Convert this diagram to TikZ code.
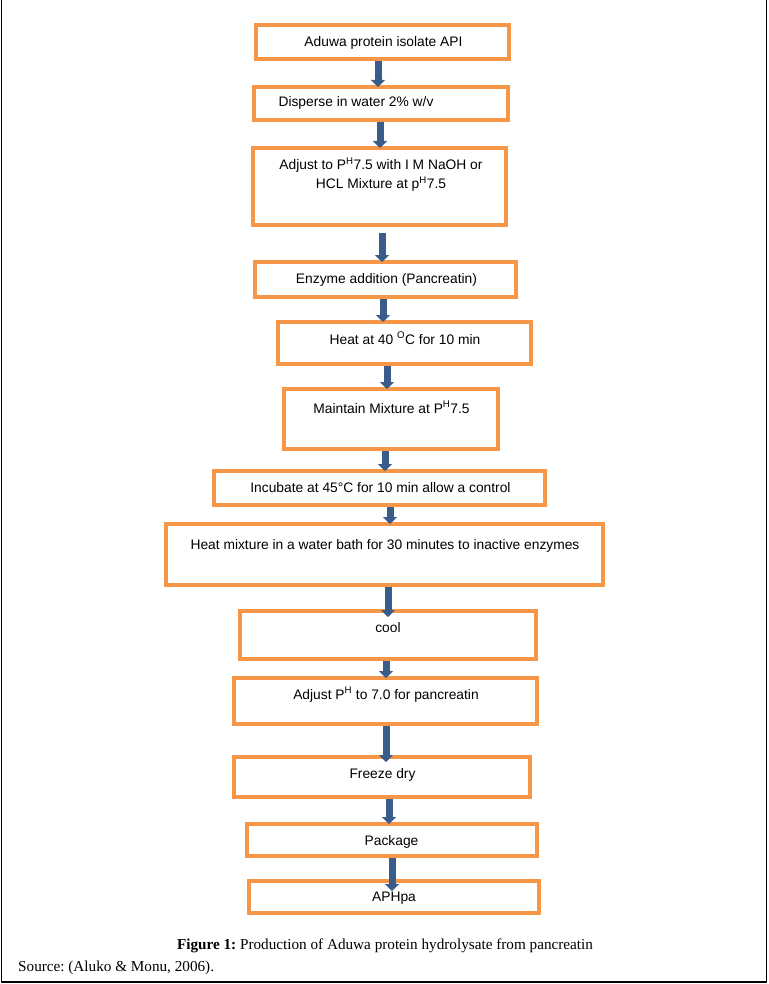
\documentclass[tikz,border=0pt]{standalone}
\usepackage{fontspec}
\setmainfont{Liberation Serif}
\newfontfamily\boxfont{Liberation Sans}
\usetikzlibrary{arrows.meta}
\definecolor{boxorange}{HTML}{F79646}
\definecolor{arrowblue}{RGB}{58,92,138}
\frenchspacing
\begin{document}
\begin{tikzpicture}[x=1pt,y=1pt,
  box/.style={draw=boxorange, line width=4pt, fill=none, inner sep=0pt, outer sep=0pt, rectangle},
  txt/.style={font=\boxfont\fontsize{13.8}{16}\selectfont, inner sep=0pt, anchor=base},
  arr/.style={draw=arrowblue, line width=7pt, -{Triangle[width=14pt,length=7pt]}},
  captext/.style={font=\fontsize{15.2}{17}\selectfont, inner sep=0pt, anchor=base}]
\useasboundingbox (0,0) rectangle (768,-984);
% outer frame (open at top)
\draw[line width=1.5pt] (1.5,0) -- (1.5,-982) -- (766.5,-982) -- (766.5,0);

% boxes
\node[box, minimum width=253pt, minimum height=34pt] (b1) at (382.5,-42) {};
\node[box, minimum width=254pt, minimum height=33pt] (b2) at (381,-103.5) {};
\node[box, minimum width=253pt, minimum height=77pt] (b3) at (379.5,-186.5) {};
\node[box, minimum width=261pt, minimum height=35pt] (b4) at (385.5,-279.5) {};
\node[box, minimum width=253pt, minimum height=42pt] (b5) at (404.5,-343) {};
\node[box, minimum width=214pt, minimum height=60pt] (b6) at (391,-419) {};
\node[box, minimum width=331pt, minimum height=34pt] (b7) at (379.5,-488) {};
\node[box, minimum width=437pt, minimum height=61pt] (b8) at (384.5,-554.5) {};
\node[box, minimum width=296pt, minimum height=48pt] (b9) at (388,-635) {};
\node[box, minimum width=303pt, minimum height=46pt] (b10) at (385.5,-701) {};
\node[box, minimum width=296pt, minimum height=40pt] (b11) at (382,-777) {};
\node[box, minimum width=290pt, minimum height=32pt] (b12) at (392,-840) {};
\node[box, minimum width=290pt, minimum height=32pt] (b13) at (394,-897) {};

% texts
\node[txt] (t1) at (383.5,-47) {Aduwa protein isolate API};
\node[txt] (t2) at (356,-107) {Disperse in water 2\% w/v};
\node[txt] (t3a) at (381,-170) {Adjust to P\textsuperscript{H}7.5 with I M NaOH or};
\node[txt] (t3b) at (381,-189) {HCL Mixture at p\textsuperscript{H}7.5};
\node[txt] (t4) at (386.5,-283) {Enzyme addition (Pancreatin)};
\node[txt] (t5) at (405,-344) {Heat at 40 \textsuperscript{O}C for 10 min};
\node[txt] (t6) at (391.5,-413) {Maintain Mixture at P\textsuperscript{H}7.5};
\node[txt] (t7) at (380.5,-492) {Incubate at 45°C for 10 min allow a control};
\node[txt] (t8) at (385,-549) {Heat mixture in a water bath for 30 minutes to inactive enzymes};
\node[txt] (t9) at (388,-632) {cool};
\node[txt] (t10) at (386,-699) {Adjust P\textsuperscript{H} to 7.0 for pancreatin};
\node[txt] (t11) at (382.5,-778) {Freeze dry};
\node[txt] (t12) at (391.5,-845) {Package};
\node[txt] (t13) at (394,-901) {APHpa};

% arrows
\draw[arr, shorten <=2pt] (378,0 |- b1.south) -- (378,0 |- b2.north);
\draw[arr, shorten <=2pt] (380,0 |- b2.south) -- (380,0 |- b3.north);
\draw[arr, shorten <=8pt] (382,0 |- b3.south) -- (382,0 |- b4.north);
\draw[arr, shorten <=2pt] (383,0 |- b4.south) -- (383,0 |- b5.north);
\draw[arr, shorten <=2pt] (387,0 |- b5.south) -- (387,0 |- b6.north);
\draw[arr, shorten <=2pt] (385,0 |- b6.south) -- (385,0 |- b7.north);
\draw[arr, shorten <=2pt] (390,0 |- b7.south) -- (390,0 |- b8.north);
\draw[arr, shorten <=2pt, shorten >=-6pt] (388,0 |- b8.south) -- (388,0 |- b9.north);
\draw[arr, shorten <=2pt] (386,0 |- b9.south) -- (386,0 |- b10.north);
\draw[arr, shorten <=2pt, shorten >=-5pt] (386,0 |- b10.south) -- (386,0 |- b11.north);
\draw[arr, shorten <=2pt] (389,0 |- b11.south) -- (389,0 |- b12.north);
\draw[arr, shorten <=2pt, shorten >=-10pt] (392,0 |- b12.south) -- (392,0 |- b13.north);

% caption
\node[captext] (caption) at (385,-949) {\textbf{Figure 1:} Production of Aduwa protein hydrolysate from pancreatin};
\node[captext, anchor=base west] (source) at (18,-971) {Source: (Aluko \& Monu, 2006).};
\end{tikzpicture}
\end{document}
